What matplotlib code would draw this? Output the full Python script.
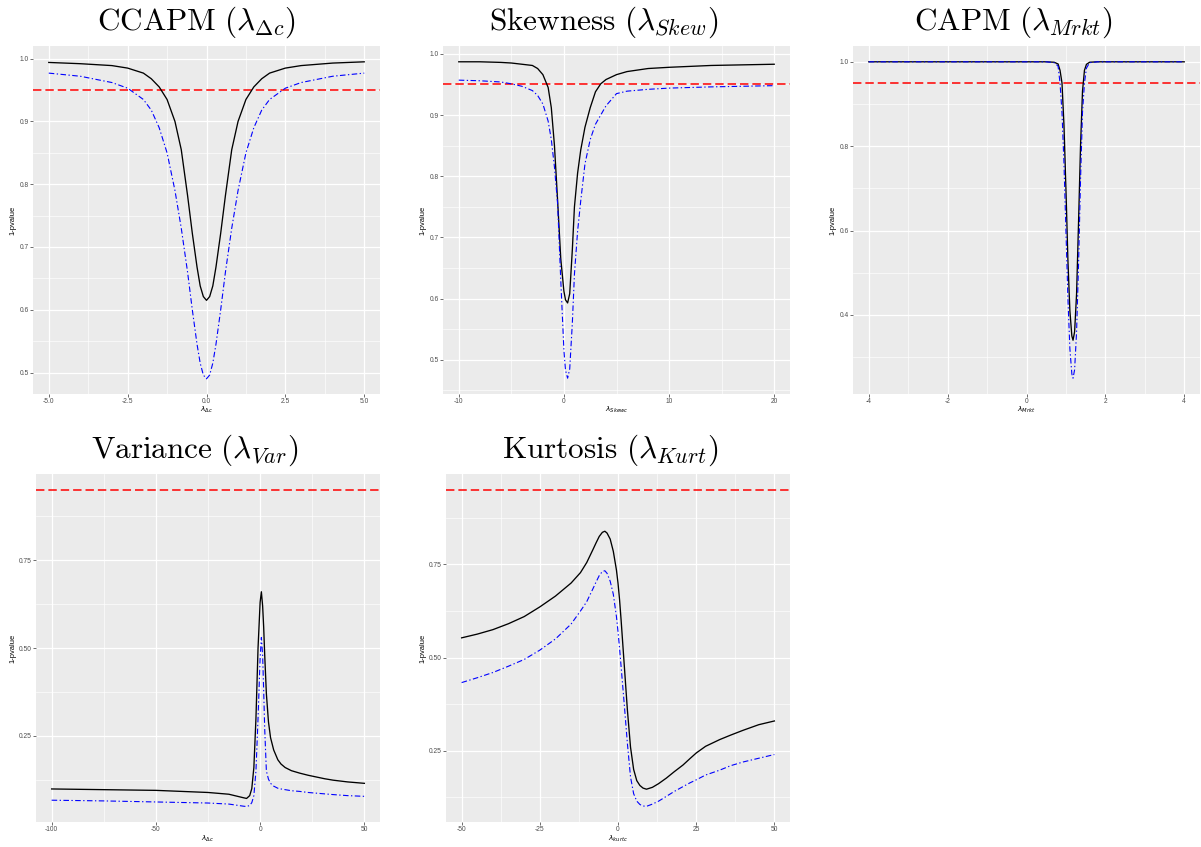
import matplotlib
matplotlib.use("Agg")
import matplotlib.pyplot as plt
from matplotlib.ticker import MultipleLocator, AutoMinorLocator, FormatStrFormatter

# ---- data: 1 - p-value curves for each factor loading ----
ccapm_x = [-5, -4, -3, -2.5, -2, -1.75, -1.5, -1.25, -1, -0.8, -0.6, -0.45, -0.3, -0.2, -0.1, 0,
           0.1, 0.2, 0.3, 0.45, 0.6, 0.8, 1, 1.25, 1.5, 1.75, 2, 2.5, 3, 4, 5]
ccapm_t1 = [0.994, 0.992, 0.989, 0.985, 0.977, 0.968, 0.955, 0.935, 0.900, 0.855, 0.782, 0.722,
            0.668, 0.638, 0.621, 0.615, 0.621, 0.638, 0.668, 0.722, 0.782, 0.855, 0.900, 0.935,
            0.955, 0.968, 0.977, 0.985, 0.989, 0.993, 0.995]
ccapm_t2 = [0.977, 0.972, 0.962, 0.953, 0.935, 0.918, 0.890, 0.850, 0.790, 0.730, 0.660, 0.600,
            0.545, 0.515, 0.496, 0.490, 0.496, 0.515, 0.545, 0.600, 0.660, 0.730, 0.790, 0.850,
            0.890, 0.918, 0.935, 0.953, 0.962, 0.972, 0.977]

skew_x = [-10, -8, -6, -5, -4, -3, -2.5, -2, -1.5, -1.2, -0.9, -0.6, -0.3, 0, 0.15, 0.35, 0.55,
          0.8, 1.0, 1.3, 1.6, 2.0, 2.5, 3.0, 3.5, 4, 5, 6, 8, 10, 14, 17, 20]
skew_t1 = [0.987, 0.987, 0.986, 0.985, 0.983, 0.981, 0.976, 0.966, 0.945, 0.912, 0.850, 0.760,
           0.665, 0.612, 0.598, 0.593, 0.608, 0.680, 0.750, 0.805, 0.843, 0.880, 0.912, 0.938,
           0.951, 0.958, 0.966, 0.971, 0.976, 0.978, 0.981, 0.982, 0.983]
skew_t2 = [0.957, 0.956, 0.954, 0.951, 0.947, 0.940, 0.932, 0.918, 0.890, 0.860, 0.815, 0.755,
           0.630, 0.515, 0.483, 0.470, 0.485, 0.560, 0.640, 0.710, 0.760, 0.820, 0.860, 0.885,
           0.900, 0.915, 0.935, 0.939, 0.942, 0.944, 0.946, 0.947, 0.948]

capm_x = [-4, -2, 0, 0.5, 0.7, 0.8, 0.85, 0.9, 0.95, 1.0, 1.05, 1.1, 1.15, 1.18, 1.22, 1.27,
          1.32, 1.37, 1.42, 1.47, 1.52, 1.6, 1.8, 2, 4]
capm_t1 = [1.0, 1.0, 1.0, 1.0, 0.999, 0.995, 0.980, 0.950, 0.850, 0.700, 0.530, 0.410, 0.350,
           0.340, 0.360, 0.450, 0.620, 0.800, 0.930, 0.980, 0.994, 0.999, 1.0, 1.0, 1.0]
capm_t2 = [1.0, 1.0, 1.0, 1.0, 0.998, 0.990, 0.950, 0.880, 0.760, 0.600, 0.440, 0.320, 0.260,
           0.250, 0.270, 0.360, 0.520, 0.720, 0.880, 0.950, 0.985, 0.998, 1.0, 1.0, 1.0]

var_x = [-100, -75, -50, -25, -15, -8, -6.5, -5, -4, -3, -2, -1, 0, 0.6, 1.2, 1.7, 2.2, 3, 4,
         5, 6.5, 8.5, 10, 12, 15, 19, 23, 27, 31, 35, 42, 50]
var_t1 = [0.099, 0.097, 0.095, 0.089, 0.084, 0.074, 0.072, 0.080, 0.100, 0.160, 0.300, 0.500,
          0.630, 0.660, 0.620, 0.560, 0.480, 0.370, 0.290, 0.245, 0.210, 0.182, 0.170, 0.160,
          0.151, 0.144, 0.138, 0.133, 0.128, 0.124, 0.119, 0.115]
var_t2 = [0.067, 0.065, 0.062, 0.059, 0.056, 0.050, 0.049, 0.052, 0.060, 0.080, 0.150, 0.300,
          0.470, 0.530, 0.480, 0.380, 0.270, 0.150, 0.127, 0.115, 0.107, 0.101, 0.099, 0.097,
          0.094, 0.092, 0.089, 0.087, 0.085, 0.083, 0.080, 0.078]

kurt_x = [-50, -45, -40, -35, -30, -25, -20, -15, -12, -10, -8, -7, -6, -5, -4.2, -3.5, -2.5,
          -1.5, -0.5, 0, 0.5, 1, 1.5, 2, 3, 4, 5, 6, 7, 8, 9.1, 11, 13, 15.5, 18, 20.8, 23, 25,
          28, 32.5, 36, 40, 45, 50]
kurt_t1 = [0.553, 0.563, 0.575, 0.591, 0.610, 0.636, 0.665, 0.700, 0.728, 0.755, 0.790, 0.808,
           0.825, 0.836, 0.839, 0.834, 0.818, 0.785, 0.735, 0.700, 0.655, 0.600, 0.540, 0.480,
           0.360, 0.260, 0.200, 0.170, 0.157, 0.150, 0.147, 0.152, 0.162, 0.177, 0.194, 0.212,
           0.229, 0.244, 0.262, 0.280, 0.292, 0.305, 0.320, 0.330]
kurt_t2 = [0.433, 0.446, 0.460, 0.477, 0.495, 0.520, 0.550, 0.590, 0.625, 0.650, 0.685, 0.703,
           0.720, 0.731, 0.733, 0.726, 0.705, 0.670, 0.610, 0.570, 0.525, 0.475, 0.425, 0.375,
           0.270, 0.180, 0.135, 0.115, 0.106, 0.102, 0.101, 0.107, 0.115, 0.128, 0.141, 0.154,
           0.164, 0.172, 0.185, 0.198, 0.210, 0.220, 0.230, 0.240]

level = 0.95

W, H = 1201, 847
fig = plt.figure(figsize=(W / 100, H / 100), dpi=100)


def px_axes(x0, y0, x1, y1):
    return fig.add_axes([x0 / W, 1 - y1 / H, (x1 - x0) / W, (y1 - y0) / H])


def gg_panel(box, x, t1, t2, xlim, ylim, xstep, ystep, yfmt, xfmt, xlab, ylab_px, xlab_px):
    ax = px_axes(*box)
    ax.set_facecolor("#EBEBEB")
    for s in ax.spines.values():
        s.set_visible(False)
    ax.axhline(level, color="#FF0000", lw=1.1, dashes=(5.5, 2.6), zorder=3)
    ax.plot(x, t1, color="black", lw=0.95, zorder=4, solid_joinstyle="round")
    ax.plot(x, t2, color="#0000FF", lw=0.8, dashes=(5, 2.2, 1.2, 2.2), zorder=4)
    ax.set_xlim(*xlim)
    ax.set_ylim(*ylim)
    ax.xaxis.set_major_locator(MultipleLocator(xstep))
    ax.yaxis.set_major_locator(MultipleLocator(ystep))
    ax.xaxis.set_minor_locator(AutoMinorLocator(2))
    ax.yaxis.set_minor_locator(AutoMinorLocator(2))
    ax.xaxis.set_major_formatter(FormatStrFormatter(xfmt))
    ax.yaxis.set_major_formatter(FormatStrFormatter(yfmt))
    ax.grid(which="major", color="white", lw=0.9)
    ax.grid(which="minor", color="white", lw=0.45)
    ax.set_axisbelow(True)
    ax.tick_params(which="major", length=2, width=0.5, color="#333333",
                   labelsize=4.8, labelcolor="#4D4D4D", pad=1.2)
    ax.tick_params(which="minor", length=0)
    for lab in ax.get_xticklabels() + ax.get_yticklabels():
        lab.set_family("Liberation Sans")
    x0, y0, x1, y1 = box
    ax.set_ylabel("1-pvalue", fontsize=5.4, family="Liberation Sans")
    ax.yaxis.set_label_coords((ylab_px - x0) / (x1 - x0), 0.5)
    ax.set_xlabel(xlab, fontsize=5.4, family="Liberation Sans", math_fontfamily="dejavusans")
    ax.xaxis.set_label_coords(0.5, (y1 - xlab_px) / (y1 - y0))
    return ax


gg_panel((33, 46, 380, 394), ccapm_x, ccapm_t1, ccapm_t2, (-5.5, 5.5), (0.4658, 1.0202),
         2.5, 0.1, "%.1f", "%.1f", r"$\lambda_{\Delta c}$", 16, 405)
gg_panel((443, 46, 790, 394), skew_x, skew_t1, skew_t2, (-11.5, 21.5), (0.4442, 1.0128),
         10, 0.1, "%.1f", "%d", r"$\lambda_{Skewc}$", 426, 405)
gg_panel((853, 46, 1200, 394), capm_x, capm_t1, capm_t2, (-4.4, 4.4), (0.2125, 1.0375),
         2, 0.2, "%.1f", "%d", r"$\lambda_{Mrkt}$", 836, 405)
gg_panel((36, 474, 380, 822), var_x, var_t1, var_t2, (-107.5, 57.5), (0.0050, 0.9950),
         50, 0.25, "%.2f", "%d", r"$\lambda_{\Delta c}$", 16, 834)
gg_panel((446, 474, 790, 822), kurt_x, kurt_t1, kurt_t2, (-55, 55), (0.0590, 0.9925),
         25, 0.25, "%.2f", "%d", r"$\lambda_{kurtc}$", 426, 834)

# panel titles in Computer Modern
titles = [r"$\mathrm{CCAPM}\ (\lambda_{\Delta c})$",
          r"$\mathrm{Skewness}\ (\lambda_{Skew})$",
          r"$\mathrm{CAPM}\ (\lambda_{Mrkt})$",
          r"$\mathrm{Variance}\ (\lambda_{Var})$",
          r"$\mathrm{Kurtosis}\ (\lambda_{Kurt})$"]
title_pos = [(196, 29.5), (604, 29.5), (1013, 29.5), (195, 458), (610, 458)]
for t, (tx, ty) in zip(titles, title_pos):
    fig.text(tx / W, 1 - ty / H, t, ha="center", va="baseline", fontsize=22.5,
             math_fontfamily="cm")

fig.savefig("out.png", dpi=100, facecolor="white")
